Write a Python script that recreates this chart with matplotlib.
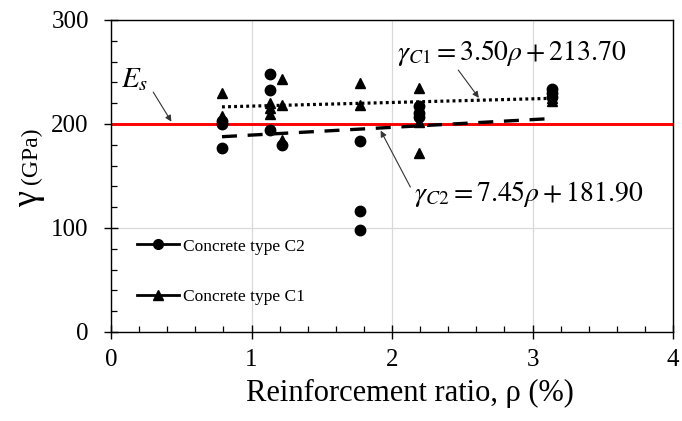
import matplotlib
matplotlib.use("Agg")
import matplotlib.pyplot as plt
from matplotlib.lines import Line2D
import numpy as np

plt.rcParams['font.family'] = ['Liberation Serif', 'DejaVu Serif']
plt.rcParams['mathtext.fontset'] = 'stix'

# ---- data ----
c2_rho = [0.79, 0.79, 0.79, 1.13, 1.13, 1.13, 1.22, 1.77, 1.77, 1.77, 2.19, 2.19, 2.19, 3.14, 3.14, 3.14]
c2_gam = [177, 200, 203, 248, 233, 194, 180, 184, 116, 98, 217, 211, 207, 234, 230, 226]
c1_rho = [0.79, 0.79, 1.13, 1.13, 1.13, 1.22, 1.22, 1.22, 1.77, 1.77, 2.19, 2.19, 2.19, 3.14, 3.14]
c1_gam = [230, 208, 220, 215, 210, 243, 218, 185, 239, 218, 235, 202, 172, 225, 222]
fit_c1 = (3.50, 213.70)
fit_c2 = (7.45, 181.90)
fit_range = (0.79, 3.14)
es_value = 200
x_ticks = [0, 1, 2, 3, 4]
y_ticks = [0, 100, 200, 300]
labels = ['Concrete type C2', 'Concrete type C1']

fig = plt.figure(figsize=(6.82, 4.21), dpi=100)
ax = fig.add_axes([111/682, 1-332/421, (673-111)/682, 312/421])

ax.set_xlim(0, 4)
ax.set_ylim(0, 300)
ax.set_xticks(x_ticks)
ax.set_yticks(y_ticks)
ax.set_xticks(np.arange(0, 4.01, 0.2), minor=True)
ax.set_yticks(np.arange(0, 300.1, 20), minor=True)
ax.tick_params(which='major', direction='inout', length=10, width=1.0, labelsize=18,
               top=False, right=False)
ax.tick_params(which='minor', direction='in', length=4, width=0.9, top=False, right=False)
ax.tick_params(axis='x', which='major', pad=7)
ax.tick_params(axis='y', which='major', pad=11)
for s in ax.spines.values():
    s.set_linewidth(1.0)
    s.set_color('black')

ax.grid(True, which='major', color='#d9d9d9', lw=0.9)
ax.set_axisbelow(True)

# Es line
ax.axhline(es_value, color='red', lw=2.1, zorder=2)

# trend lines
xf = np.array(fit_range)
ax.plot(xf, fit_c1[0]*xf + fit_c1[1], color='black', lw=2.3, ls=(0, (0.9, 1.0)), zorder=3)
ax.plot(xf, fit_c2[0]*xf + fit_c2[1], color='black', lw=2.4, ls=(0, (4.5, 3.2)), zorder=3)

# points
ax.plot(c2_rho, c2_gam, 'o', color='black', ms=7.5, ls='none', zorder=4)
ax.plot(c1_rho, c1_gam, '^', color='black', ms=7.7, ls='none', zorder=4)

# legend
handles = [Line2D([], [], color='black', lw=2.0, marker='o', ms=7),
           Line2D([], [], color='black', lw=2.0, marker='^', ms=7)]
leg = ax.legend(handles, labels, loc='upper left', bbox_to_anchor=(0.046, 0.30),
                frameon=False, fontsize=12.5, handlelength=2.4, handletextpad=0.25,
                labelspacing=2.0, borderpad=0, borderaxespad=0)

# annotations
ax.text(0.17, 243, r'$E_s$', fontsize=21, ha='center', va='center')
ax.annotate('', xy=(0.44, 200), xytext=(0.29, 233),
            arrowprops=dict(arrowstyle='-|>', color='#333333', lw=0.8, mutation_scale=9))
ax.text(2.85, 268, r'$\gamma_{C1} = 3.50\rho + 213.70$', fontsize=20, ha='center', va='center')
ax.annotate('', xy=(2.63, 223), xytext=(2.46, 254),
            arrowprops=dict(arrowstyle='-|>', color='#333333', lw=0.8, mutation_scale=9))
ax.text(2.97, 133, r'$\gamma_{C2} = 7.45\rho + 181.90$', fontsize=20, ha='center', va='center')
ax.annotate('', xy=(1.91, 196), xytext=(2.14, 137),
            arrowprops=dict(arrowstyle='-|>', color='#333333', lw=0.8, mutation_scale=9))

# axis labels
ax.set_xlabel('Reinforcement ratio, ρ (%)', fontsize=22)
ax.xaxis.set_label_coords((410-111)/562, -0.15)
fig.text(29/682, 1-199/421, 'γ', fontsize=26, rotation=90, ha='center', va='center')
fig.text(31/682, 1-156/421, '(GPa)', fontsize=17, rotation=90, ha='center', va='center')

fig.savefig('out.png', dpi=100)
